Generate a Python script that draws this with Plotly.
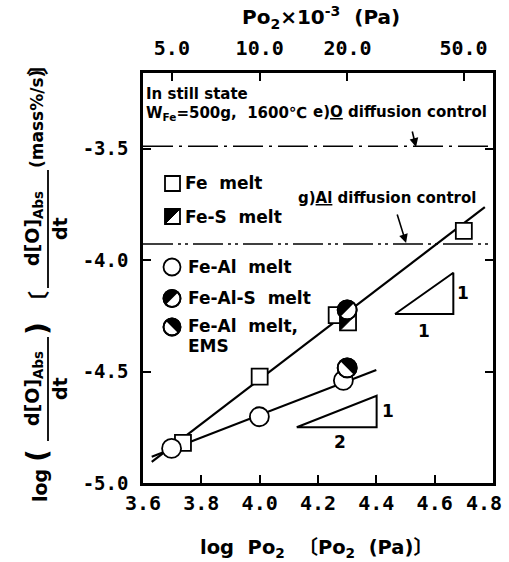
import numpy as np
import plotly.graph_objects as go

# ---------------- data ----------------
fe_x = [3.737, 4.000, 4.264, 4.700]          # Fe melt (open squares)
fe_y = [-4.820, -4.523, -4.247, -3.869]
fes_x = [4.303]                              # Fe-S melt (half-filled square)
fes_y = [-4.280]
feal_x = [3.698, 3.999, 4.287]               # Fe-Al melt (open circles)
feal_y = [-4.845, -4.703, -4.540]
feals_x = [4.300]                            # Fe-Al-S melt (half-filled circle)
feals_y = [-4.224]
ems_x = [4.300]                              # Fe-Al melt, EMS
ems_y = [-4.484]

fit1_x = [3.63, 4.772]                       # slope-1 line
fit1_y = [-4.905, -3.763]
fit2_x = [3.63, 4.40]                        # slope-1/2 line
fit2_y = [-4.882, -4.493]

o_diff_level = -3.49                         # e) O diffusion control
al_diff_level = -3.928                       # g) Al diffusion control

tri1_x = [4.464, 4.664, 4.664, 4.464]        # slope triangle 1:1
tri1_y = [-4.242, -4.242, -4.057, -4.242]
tri2_x = [4.127, 4.401, 4.401, 4.127]        # slope triangle 1:2
tri2_y = [-4.750, -4.750, -4.609, -4.750]

x_ticks = [3.6, 3.8, 4.0, 4.2, 4.4, 4.6, 4.8]
x_ticktext = ["3.6", "3.8", "4.0", "4.2", "4.4", "4.6", ""]
last_x_label = "4.8"                         # drawn as annotation (sits at the page edge)
y_ticks = [-5.0, -4.5, -4.0, -3.5]
y_ticktext = ["-5.0", "-4.5", "-4.0", "-3.5"]
top_po2 = [5.0, 10.0, 20.0, 50.0]            # Po2 x 10^-3 (Pa)
top_ticktext = ["5.0", "10.0", "20.0", "50.0"]

# ---------------- geometry helpers ----------------
W, H = 509, 562
L, R, T, B = 143, 16, 73, 79
PW, PH = W - L - R, H - T - B


def px(x):
    return (x - L) / PW


def py(y):
    return (H - B - y) / PH


FONT = "DejaVu Sans, Noto Sans CJK JP"
MONO = "DejaVu Sans Mono"

fig = go.Figure()

# diffusion-control lines
fig.add_trace(go.Scatter(x=[3.6, 4.8], y=[o_diff_level] * 2, mode="lines",
                         line=dict(color="black", width=1.5, dash="30px,6px,3px,6px"),
                         hoverinfo="skip"))
fig.add_trace(go.Scatter(x=[3.6, 4.8], y=[al_diff_level] * 2, mode="lines",
                         line=dict(color="black", width=1.5, dash="30px,5px,3px,4px,3px,5px"),
                         hoverinfo="skip"))
# fitted lines
fig.add_trace(go.Scatter(x=fit1_x, y=fit1_y, mode="lines",
                         line=dict(color="black", width=2.2), hoverinfo="skip"))
fig.add_trace(go.Scatter(x=fit2_x, y=fit2_y, mode="lines",
                         line=dict(color="black", width=2.2), hoverinfo="skip"))
# slope triangles
for tx, ty in [(tri1_x, tri1_y), (tri2_x, tri2_y)]:
    fig.add_trace(go.Scatter(x=tx, y=ty, mode="lines",
                             line=dict(color="black", width=2), hoverinfo="skip"))
# open markers
fig.add_trace(go.Scatter(x=fe_x, y=fe_y, mode="markers",
                         marker=dict(symbol="square", size=16, color="white",
                                     line=dict(color="black", width=1.8))))
fig.add_trace(go.Scatter(x=feal_x, y=feal_y, mode="markers",
                         marker=dict(symbol="circle", size=19, color="white",
                                     line=dict(color="black", width=1.8))))
# invisible trace for top axis
fig.add_trace(go.Scatter(x=[3.6, 4.8], y=[-5, -5], xaxis="x2", mode="lines",
                         line=dict(width=0), hoverinfo="skip", showlegend=False))

shapes = []


def pix_shape(kind, xv, yv, ref, **kw):
    d = dict(type=kind, xref=ref[0], yref=ref[1], xsizemode="pixel", ysizemode="pixel",
             xanchor=xv, yanchor=yv)
    d.update(kw)
    return d


def half_circle(xv, yv, r, a0, a1, ref):
    t = np.radians(np.linspace(a0, a1, 31))
    pts = " L ".join(f"{r*np.cos(a):.2f},{r*np.sin(a):.2f}" for a in t)
    shapes.append(pix_shape("circle", xv, yv, ref, x0=-r, x1=r, y0=-r, y1=r,
                            fillcolor="white", line=dict(color="black", width=1.8)))
    shapes.append(pix_shape("path", xv, yv, ref, path="M " + pts + " Z",
                            fillcolor="black", line=dict(width=0)))
    shapes.append(pix_shape("circle", xv, yv, ref, x0=-r, x1=r, y0=-r, y1=r,
                            line=dict(color="black", width=1.8)))


def open_circle(xv, yv, r, ref):
    shapes.append(pix_shape("circle", xv, yv, ref, x0=-r, x1=r, y0=-r, y1=r,
                            fillcolor="white", line=dict(color="black", width=1.8)))


def square(xv, yv, s, ref, half=False):
    shapes.append(pix_shape("rect", xv, yv, ref, x0=-s, x1=s, y0=-s, y1=s,
                            fillcolor="white", line=dict(color="black", width=1.8)))
    if half:
        shapes.append(pix_shape("path", xv, yv, ref,
                                path=f"M {-s},{-s} L {-s},{s} L {s},{s} Z",
                                fillcolor="black", line=dict(color="black", width=1)))


DATA = ("x", "y")
PAPER = ("paper", "paper")

# half-filled data markers
for xv, yv in zip(fes_x, fes_y):
    square(xv, yv, 8, DATA, half=True)
for xv, yv in zip(feals_x, feals_y):
    half_circle(xv, yv, 9.5, 45, 225, DATA)
for xv, yv in zip(ems_x, ems_y):
    half_circle(xv, yv, 9.5, -45, 135, DATA)

# legend markers
square(px(172.5), py(183.5), 7.5, PAPER)
square(px(172.5), py(216.5), 7.5, PAPER, half=True)
open_circle(px(172), py(267), 8.5, PAPER)
half_circle(px(172), py(298.5), 8.5, 45, 225, PAPER)
half_circle(px(172), py(327), 8.5, -45, 135, PAPER)

# y-title fraction bars
shapes.append(dict(type="line", xref="paper", yref="paper", x0=px(48), x1=px(48),
                   y0=py(337), y1=py(441), line=dict(color="black", width=1.8)))
shapes.append(dict(type="line", xref="paper", yref="paper", x0=px(48), x1=px(48),
                   y0=py(170), y1=py(288), line=dict(color="black", width=1.8)))

ann = []


def text(s, x, y, size=17, xanchor="left", angle=0, family=FONT):
    ann.append(dict(text=s, x=px(x), y=py(y), xref="paper", yref="paper",
                    xanchor=xanchor, yanchor="middle", showarrow=False,
                    textangle=angle,
                    font=dict(family=family, size=size, color="black", weight="bold")))


# in-plot labels
text("In still state", 144, 94, 15)
text("W<sub>Fe</sub>=500g,  1600℃", 144, 113, 15)
text("e)<u>O</u> diffusion control", 311, 112, 15)
text("g)<u>Al</u> diffusion control", 296, 198, 15)
text("Fe  melt", 183, 183, 17)
text("Fe-S  melt", 183, 217, 17)
text("Fe-Al  melt", 186, 267, 17)
text("Fe-Al-S  melt", 186, 298, 17)
text("Fe-Al  melt,", 186, 326, 17)
text("EMS", 186, 346, 17)
text("1", 463, 293, 17, "center")
text("1", 424, 331, 17, "center")
text("1", 388, 411, 17, "center")
text("2", 340, 442, 17, "center")

# last bottom tick label
text(last_x_label, 484, 503, 20, "center", family=MONO)

# axis titles
text("Po<sub>2</sub>×10<sup>-3</sup>  (Pa)", 321, 17, 20, "center")
text("log  Po<sub>2</sub>  〔Po<sub>2</sub>  (Pa)〕", 316, 548, 19.5, "center")

# y title (rotated pieces)
text("log", 40, 486, 19, "center", -90)
text("(", 37, 455, 28, "center", -90)
text("d[O]<sub>Abs</sub>", 33, 389, 19, "center", -90)
text("dt", 60, 389, 19, "center", -90)
text(")", 37, 328, 28, "center", -90)
text("〔", 38, 302, 22, "center", -90)
text("d[O]<sub>Abs</sub>", 33, 229, 19, "center", -90)
text("dt", 60, 229, 19, "center", -90)
text("(mass%/s)", 37, 119, 17, "center", -90)
text("〕", 38, 64, 22, "center", -90)

# arrows
ann.append(dict(x=4.536, y=-3.493, ax=4.522, ay=-3.417, xref="x", yref="y",
                axref="x", ayref="y", text="", showarrow=True, arrowhead=2,
                arrowsize=1.1, arrowwidth=1.6, arrowcolor="black"))
ann.append(dict(x=4.502, y=-3.924, ax=4.470, ay=-3.789, xref="x", yref="y",
                axref="x", ayref="y", text="", showarrow=True, arrowhead=2,
                arrowsize=1.1, arrowwidth=1.6, arrowcolor="black"))

axis_common = dict(showgrid=False, zeroline=False, ticks="inside", ticklen=8,
                   tickwidth=2, tickcolor="black", linecolor="black", linewidth=2.5,
                   automargin=False)

fig.update_layout(
    width=W, height=H,
    margin=dict(l=L, r=R, t=T, b=B, pad=0, autoexpand=False),
    paper_bgcolor="white", plot_bgcolor="white",
    showlegend=False,
    font=dict(family=FONT, color="black"),
    xaxis=dict(range=[3.6, 4.8], tickvals=x_ticks, ticktext=x_ticktext,
               showline=True, mirror=True, ticklabelstandoff=0,
               tickfont=dict(family=MONO, size=20, weight="bold", color="black"),
               **axis_common),
    xaxis2=dict(range=[3.6, 4.8], overlaying="x", side="top",
                tickvals=[float(np.log10(v * 1000)) for v in top_po2],
                ticktext=top_ticktext, showline=False, ticklabelstandoff=13,
                tickfont=dict(family=MONO, size=20, weight="bold", color="black"),
                **axis_common),
    yaxis=dict(range=[-5.0, -5.0 + PH / 223.0], tickvals=y_ticks, ticktext=y_ticktext,
               showline=True, mirror="ticks", ticklabelstandoff=8,
               tickfont=dict(family=MONO, size=19, weight="bold", color="black"),
               **axis_common),
    shapes=shapes,
    annotations=ann,
)

fig.write_html("out.html")
